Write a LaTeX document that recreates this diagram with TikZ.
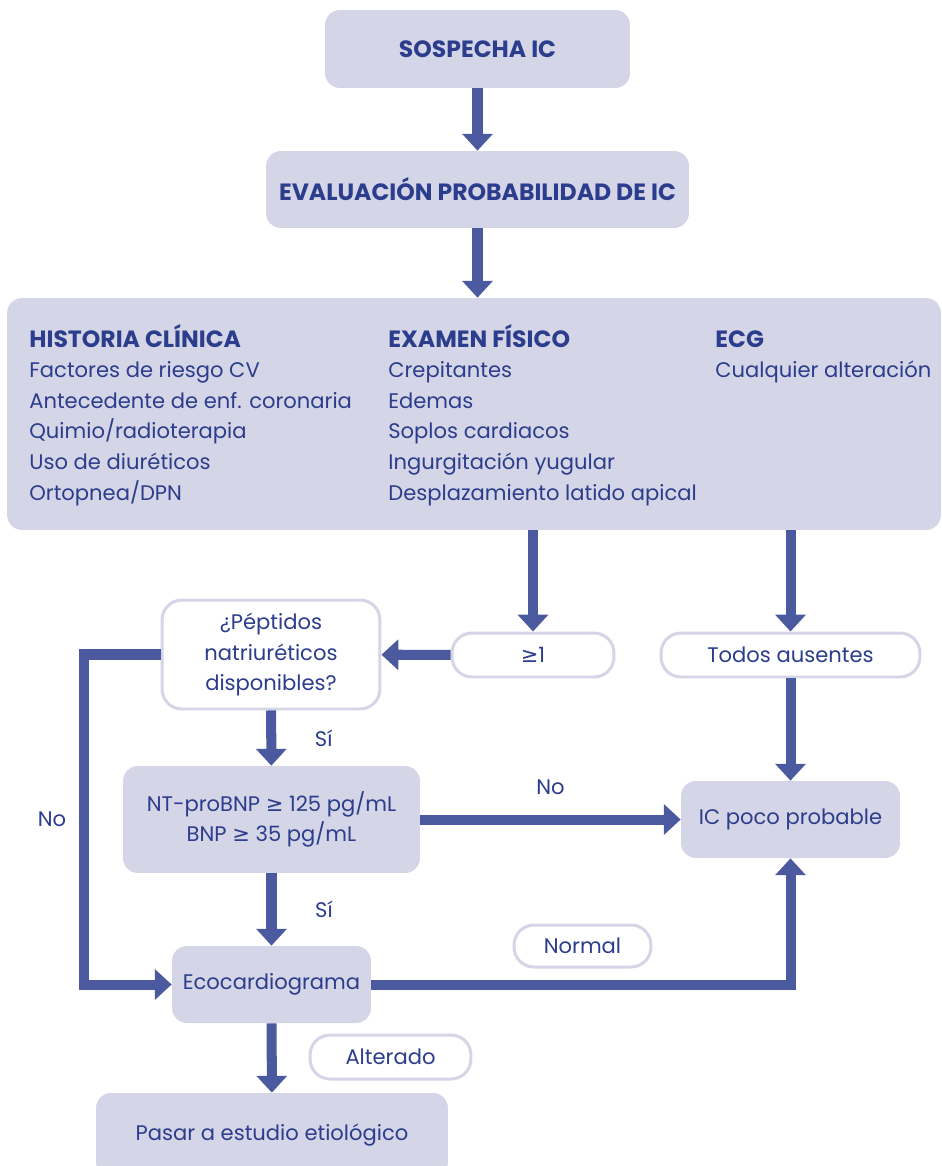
\documentclass[tikz,border=0pt]{standalone}
\usepackage{fontspec}
\setmainfont{Poppins}
\newfontfamily\simbolos{DejaVu Sans}
\usetikzlibrary{arrows.meta}
\usetikzlibrary{positioning}
\definecolor{cajafondo}{HTML}{D4D5E6}
\definecolor{textoazul}{HTML}{2B3D8C}
\definecolor{flechaazul}{HTML}{4B5A9E}
\newcommand{\mayorigual}{{\simbolos ≥}}
\newcommand{\letra}{\fontsize{12}{17.4}\selectfont}
\newcommand{\letratitulo}{\fontsize{13.4}{17.4}\selectfont\bfseries}
\tikzset{
    caja/.style={fill=cajafondo, rounded corners=0.3cm, text=textoazul, align=center, inner sep=0pt},
    cajablanca/.style={draw=cajafondo, line width=1.7pt, fill=white, rounded corners=0.4cm, text=textoazul, align=center, inner sep=0pt},
    etiqueta/.style={text=textoazul, inner sep=0pt},
    titulo/.style={font=\letratitulo},
    flecha/.style={draw=flechaazul, line width=5.7pt, -{Triangle[width=17pt,length=9.6pt]}},
}

\begin{document}
\begin{tikzpicture}[x=0.02cm,y=-0.02cm, font=\letra]
    \useasboundingbox (0,0) rectangle (942,1166);

    % cajas de arriba
    \node[caja, titulo, minimum width=6.1cm, minimum height=1.56cm] (sospecha) at (477.5,49) {SOSPECHA IC};
    \node[caja, titulo, minimum width=8.46cm, minimum height=1.54cm] (evaluacion) at (477.5,189.5) {EVALUACIÓN PROBABILIDAD DE IC};
    \node[caja, minimum width=18.68cm, minimum height=4.64cm] (criterios) at (474,414) {};

    % columnas de criterios
    \node[etiqueta, titulo, anchor=base west] (hc) at (29,347) {HISTORIA CLÍNICA};
    \foreach \t [count=\i] in {Factores de riesgo CV, Antecedente de enf. coronaria, Quimio/radioterapia, Uso de diuréticos, Ortopnea/DPN}
        \node[etiqueta, anchor=base west] (hc-\i) at (29,347+30.6*\i) {\t};
    \node[etiqueta, titulo, anchor=base west] (ef) at (388,347) {EXAMEN FÍSICO};
    \foreach \t [count=\i] in {Crepitantes, Edemas, Soplos cardiacos, Ingurgitación yugular, Desplazamiento latido apical}
        \node[etiqueta, anchor=base west] (ef-\i) at (388,347+30.6*\i) {\t};
    \node[etiqueta, titulo, anchor=base west] (ecg) at (715,347) {ECG};
    \node[etiqueta, anchor=base west] (ecg-1) at (715,377.6) {Cualquier alteración};

    % resto del algoritmo
    \node[cajablanca, minimum width=3.24cm, minimum height=0.88cm] (mayor) at (533,655) {\mayorigual1};
    \node[cajablanca, minimum width=5.18cm, minimum height=0.88cm] (todos) at (790.5,655) {Todos ausentes};
    \node[cajablanca, minimum width=4.36cm, minimum height=2.18cm] (peptidos) at (271,654.5) {¿Péptidos\\natriuréticos\\disponibles?};
    \node[caja, minimum width=5.94cm, minimum height=2.14cm] (ntbnp) at (271.5,819.5) {NT-proBNP \mayorigual{} 125 pg/mL\\BNP \mayorigual{} 35 pg/mL};
    \node[caja, minimum width=4.38cm, minimum height=1.54cm] (icpoco) at (790.5,819.5) {IC poco probable};
    \node[caja, minimum width=3.98cm, minimum height=1.54cm] (eco) at (271.5,984.5) {Ecocardiograma};
    \node[caja, minimum width=7.04cm, minimum height=1.68cm] (pasar) at (272,1135) {Pasar a estudio etiológico};

    \draw[flecha] (sospecha) -- (evaluacion);
    \draw[flecha] (evaluacion.south) -- (evaluacion.south |- criterios.north);
    \draw[flecha] (mayor.north |- criterios.south) -- (mayor.north);
    \draw[flecha] (todos.north |- criterios.south) -- (todos.north);
    \draw[flecha] (mayor) -- (peptidos);
    \draw[flecha] (peptidos) -- (ntbnp) node[etiqueta, midway, right=22pt] (si1) {Sí};
    \draw[flecha] (ntbnp.east) -- (ntbnp.east -| icpoco.west) node[etiqueta, midway, above=11pt] (no2) {No};
    \draw[flecha] (todos) -- (icpoco);
    \draw[flecha] (ntbnp) -- (eco) node[etiqueta, midway, right=22pt] (si2) {Sí};
    \draw[flecha] (peptidos.west) -- ++(-77,0) |- (eco.west) node[etiqueta, pos=0.25, left=7pt] (no1) {No};
    \draw[flecha] (eco.east) -| (icpoco.south);
    \draw[flecha] (eco) -- (pasar);

    % etiquetas con marco
    \node[cajablanca, minimum width=2.74cm, minimum height=0.84cm] (normal) at (582.5,946) {Normal};
    \node[cajablanca, minimum width=3.22cm, minimum height=0.88cm] (alterado) at (390.5,1057) {Alterado};
\end{tikzpicture}
\end{document}
